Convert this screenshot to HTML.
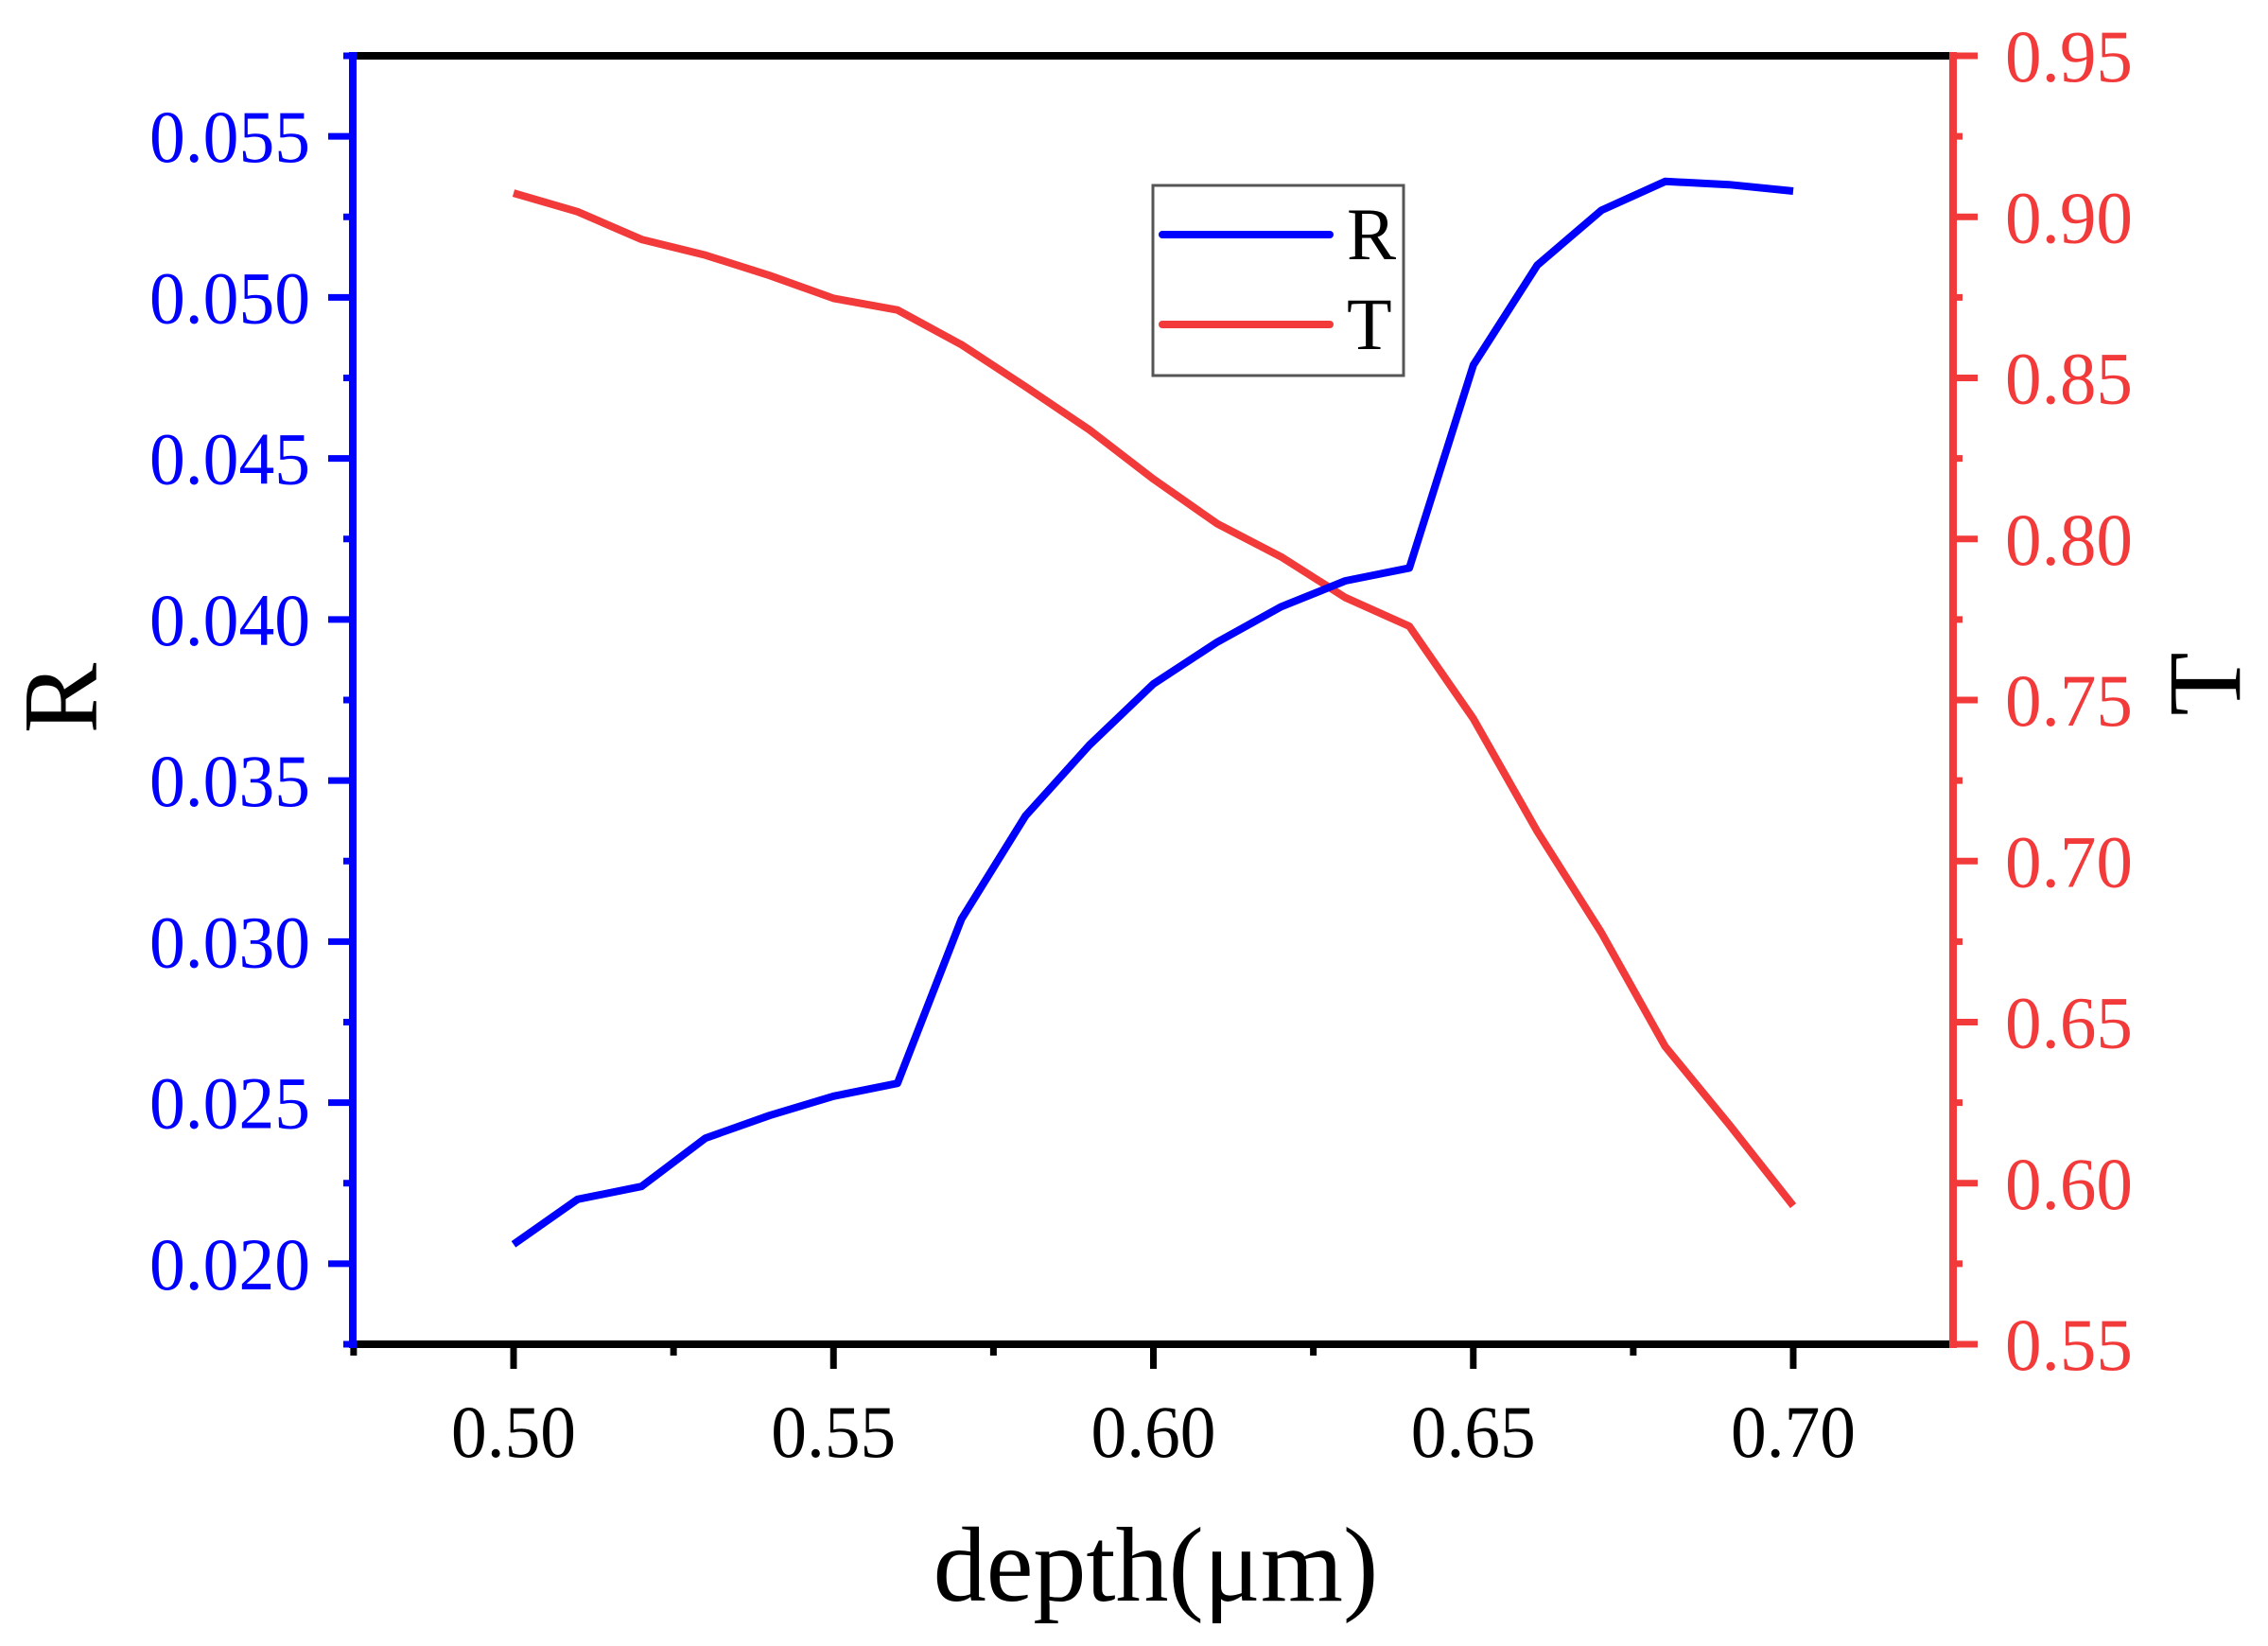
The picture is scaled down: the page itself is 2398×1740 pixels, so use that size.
<!DOCTYPE html>
<html><head><meta charset="utf-8"><style>
html,body{margin:0;padding:0;background:#fff;}
svg{display:block;}
text{font-family:"Liberation Serif",serif;}
</style></head><body>
<svg id="s" width="2398" height="1740" viewBox="0 0 2398 1740" xmlns="http://www.w3.org/2000/svg">
<rect width="2398" height="1740" fill="#fff"/>
<g id="g"></g>
</svg>
<script>
var NS="http://www.w3.org/2000/svg",g=document.getElementById('g');
function el(t,a,txt){var e=document.createElementNS(NS,t);for(var k in a)e.setAttribute(k,a[k]);if(txt!==undefined)e.textContent=txt;g.appendChild(e);return e;}
function X(d){return 543+(d-0.5)*6765;}
function YR(r){return 1421-(r-0.0175)*34050;}
function YT(t){return 1421-(t-0.55)*3405;}
var L=373,R=2065,T=59,B=1421;
el('line',{x1:L,y1:T,x2:R,y2:T,stroke:'#000','stroke-width':8});
el('line',{x1:L-4,y1:B,x2:R+4,y2:B,stroke:'#000','stroke-width':8});
for(var i=0;i<10;i++){var d=0.475+i*0.025;var x=X(d);var maj=(i%2==1);
 el('line',{x1:x,y1:B,x2:x,y2:B+(maj?26:12),stroke:'#000','stroke-width':7});
 if(maj) el('text',{x:x,y:1540,'font-size':78,'text-anchor':'middle',fill:'#000',textLength:132,lengthAdjust:'spacingAndGlyphs'},d.toFixed(2));}
el('line',{x1:L,y1:T-4,x2:L,y2:B+4,stroke:'#0000ff','stroke-width':8});
for(var i=0;i<=16;i++){var r=0.0175+i*0.0025;var y=YR(r);var maj=(i%2==1);
 el('line',{x1:L,y1:y,x2:L-(maj?26:10),y2:y,stroke:'#0000ff','stroke-width':7});
 if(maj) el('text',{x:328,y:y+27,'font-size':78,'text-anchor':'end',fill:'#0000ff',textLength:170,lengthAdjust:'spacingAndGlyphs'},r.toFixed(3));}
el('line',{x1:R,y1:T-4,x2:R,y2:B+4,stroke:'#f23a3a','stroke-width':8});
for(var i=0;i<=16;i++){var t=0.55+i*0.025;var y=YT(t);var maj=(i%2==0);
 el('line',{x1:R,y1:y,x2:R+(maj?26:10),y2:y,stroke:'#f23a3a','stroke-width':7});
 if(maj) el('text',{x:2120,y:y+27,'font-size':78,fill:'#f23a3a',textLength:135,lengthAdjust:'spacingAndGlyphs'},t.toFixed(2));}
var Rd=[0.0206,0.0220,0.0224,0.0239,0.0246,0.0252,0.0256,0.0307,0.0339,0.0361,0.0380,0.0393,0.0404,0.0412,0.0416,0.0479,0.0510,0.0527,0.0536,0.0535,0.0533];
var Td=[0.9074,0.9016,0.8930,0.8881,0.8818,0.8747,0.8711,0.8603,0.8473,0.8339,0.8186,0.8047,0.7944,0.7818,0.7729,0.7442,0.7092,0.6778,0.6424,0.6182,0.5930];
var pr=[],pt=[];
for(var i=0;i<21;i++){var d=0.5+i*0.01;pr.push(X(d).toFixed(1)+','+YR(Rd[i]).toFixed(1));pt.push(X(d).toFixed(1)+','+YT(Td[i]).toFixed(1));}
el('polyline',{points:pt.join(' '),fill:'none',stroke:'#f23a3a','stroke-width':8,'stroke-linejoin':'round'});
el('polyline',{points:pr.join(' '),fill:'none',stroke:'#0000ff','stroke-width':8,'stroke-linejoin':'round'});
el('rect',{x:1219,y:196,width:265,height:201,fill:'#fff',stroke:'#555','stroke-width':3});
el('line',{x1:1229,y1:248,x2:1406,y2:248,stroke:'#0000ff','stroke-width':8,'stroke-linecap':'round'});
el('line',{x1:1229,y1:343,x2:1406,y2:343,stroke:'#f23a3a','stroke-width':8,'stroke-linecap':'round'});
el('text',{x:1424,y:274,'font-size':78,fill:'#000'},'R');
el('text',{x:1424,y:369,'font-size':78,fill:'#000'},'T');
el('text',{x:0,y:0,'font-size':112,'text-anchor':'middle',fill:'#000',transform:'translate(102,738) rotate(-90)'},'R');
el('text',{x:0,y:0,'font-size':110,'text-anchor':'middle',fill:'#000',transform:'translate(2368,723) rotate(-90)'},'T');
el('text',{x:1222,y:1692,'font-size':112,'text-anchor':'middle',fill:'#000'},'depth(μm)');
</script>
</body></html>
